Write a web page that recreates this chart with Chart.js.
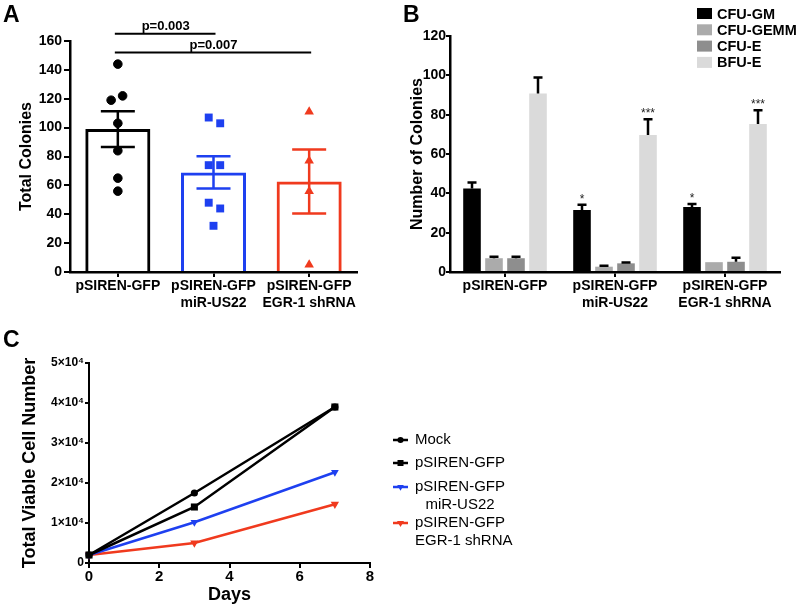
<!DOCTYPE html>
<html>
<head>
<meta charset="utf-8">
<script src="https://cdn.jsdelivr.net/npm/chart.js@4.4.1/dist/chart.umd.min.js"></script>
<style>
  body { margin: 0; background: #fff; width: 800px; height: 606px; position: relative; overflow: hidden;
         font-family: "Liberation Sans", Arial, Helvetica, sans-serif; }
  canvas { position: absolute; }
  #cA { left: 0; top: 0; }
  #cB { left: 400px; top: 0; }
  #cC { left: 0; top: 300px; }
  .panel { position: absolute; font-weight: bold; font-size: 23px; line-height: 23px; z-index: 2; }
</style>
</head>
<body>
<canvas id="cA" width="400" height="310"></canvas>
<canvas id="cB" width="400" height="310"></canvas>
<canvas id="cC" width="800" height="306"></canvas>
<div class="panel" style="left:3px; top:3px">A</div>
<div class="panel" style="left:403px; top:3px">B</div>
<div class="panel" style="left:3px; top:328px">C</div>
<script>
// shared category labels
const groupLabels = [['pSIREN-GFP'], ['pSIREN-GFP', 'miR-US22'], ['pSIREN-GFP', 'EGR-1 shRNA']];

// A: total colonies
const totalMean = [99, 69, 62.7];
const totalSem = [12.4, 11.2, 22.2];
const ctrlColonies = [144, 122, 119, 103, 84, 65, 56];
const mirColonies = [107, 103, 74, 74, 48, 44, 32];
const egrColonies = [111, 77, 56, 5];
const pLabels = ['p=0.003', 'p=0.007'];
const pPairs = [[0, 1], [0, 2]];
const pHeights = [165, 152];

// B: colony types
const colonyTypes = ['CFU-GM', 'CFU-GEMM', 'CFU-E', 'BFU-E'];
const cfuGM = [42.5, 31.5, 33];
const cfuGEMM = [7, 2.7, 5];
const cfuE = [7, 4.4, 5.2];
const bfuE = [90.7, 69.6, 75.2];
const cfuGMErr = [3, 2.7, 1.6];
const cfuGEMMErr = [0.8, 0.5, 0];
const cfuEErr = [0.8, 0.4, 2.1];
const bfuEErr = [8.2, 8.1, 7.1];
const cfuGMSig = ['', '*', '*'];
const bfuESig = ['', '***', '***'];

// C: growth curve
const days = [0, 3, 7];
const mockCells = [2000, 17500, 39000];
const gfpCells = [2000, 14000, 39000];
const mirCells = [2000, 10200, 22700];
const egrCells = [2000, 5000, 14700];
const seriesNames = [['Mock'], ['pSIREN-GFP'], ['pSIREN-GFP', 'miR-US22'], ['pSIREN-GFP', 'EGR-1 shRNA']];

const BLUE = '#1e40f0';
const RED = '#f03a1e';
const colorsA = ['#000', BLUE, RED];

// horizontal spread of the dots inside each bar (styling only)
const ctrlJitter = [0, 0.05, -0.07, 0, 0, 0, 0];
const mirJitter = [-0.05, 0.07, -0.05, 0.07, -0.05, 0.07, 0];
const egrJitter = [0, 0, 0, 0];

Chart.defaults.font.family = '"Liberation Sans", Arial, Helvetica, sans-serif';
Chart.defaults.color = '#000';

function toPoints(idx, vals, jit) {
  return vals.map((v, k) => ({ x: idx + jit[k], y: v }));
}

function axisStyle(extra) {
  return Object.assign({
    grid: { drawOnChartArea: false, color: '#000', lineWidth: 2, tickLength: 5 },
    border: { color: '#000', width: 2.5 },
  }, extra);
}

// ---------- A ----------
const plugA = {
  id: 'plugA',
  afterDraw(chart) {
    const ctx = chart.ctx, x = chart.scales.x, y = chart.scales.y;
    ctx.save();
    ctx.lineWidth = 2.5;
    totalMean.forEach((m, i) => {
      const px = x.getPixelForValue(i);
      const t = y.getPixelForValue(m + totalSem[i]);
      const b = y.getPixelForValue(m - totalSem[i]);
      ctx.strokeStyle = colorsA[i];
      ctx.beginPath();
      ctx.moveTo(px, t); ctx.lineTo(px, b);
      ctx.moveTo(px - 17, t); ctx.lineTo(px + 17, t);
      ctx.moveTo(px - 17, b); ctx.lineTo(px + 17, b);
      ctx.stroke();
    });
    ctx.strokeStyle = '#000';
    ctx.lineWidth = 2;
    ctx.fillStyle = '#000';
    ctx.font = 'bold 13px "Liberation Sans", Arial, sans-serif';
    ctx.textAlign = 'center';
    pLabels.forEach((txt, k) => {
      const x1 = x.getPixelForValue(pPairs[k][0]);
      const x2 = x.getPixelForValue(pPairs[k][1]);
      const py = y.getPixelForValue(pHeights[k]);
      ctx.beginPath();
      ctx.moveTo(x1 - 3, py); ctx.lineTo(x2 + 2, py);
      ctx.stroke();
      ctx.fillText(txt, (x1 + x2) / 2, py - 4);
    });
    ctx.restore();
  }
};

new Chart('cA', {
  type: 'bar',
  data: {
    datasets: [
      { type: 'bar', data: totalMean.map((m, i) => ({ x: i, y: m })), order: 1, grouped: false,
        backgroundColor: 'rgba(255,255,255,0)', borderColor: colorsA, borderWidth: 3,
        barPercentage: 0.68, categoryPercentage: 1 },
      { type: 'scatter', data: toPoints(0, ctrlColonies, ctrlJitter), order: 0,
        pointStyle: 'circle', pointRadius: 4.3, backgroundColor: '#000', borderColor: '#000', clip: false },
      { type: 'scatter', data: toPoints(1, mirColonies, mirJitter), order: 0,
        pointStyle: 'rect', pointRadius: 5.6, backgroundColor: BLUE, borderColor: BLUE, borderWidth: 0, clip: false },
      { type: 'scatter', data: toPoints(2, egrColonies, egrJitter), order: 0,
        pointStyle: 'triangle', pointRadius: 5.5, backgroundColor: RED, borderColor: RED, borderWidth: 0, clip: false }
    ]
  },
  options: {
    animation: false, responsive: false, events: [],
    layout: { padding: { top: 41, right: 43, left: 0, bottom: 0 } },
    plugins: { legend: { display: false }, tooltip: { enabled: false } },
    scales: {
      x: axisStyle({
        type: 'linear', min: -0.5, max: 2.5, offset: false,
        grid: { offset: false, drawOnChartArea: false, color: '#000', lineWidth: 2, tickLength: 5 },
        afterBuildTicks(s) { s.ticks = groupLabels.map((_, i) => ({ value: i })); },
        ticks: { font: { weight: 'bold', size: 14 }, color: '#000', padding: 1, maxRotation: 0, autoSkip: false,
                 callback: v => groupLabels[v] },
        afterFit(s) { s.height = 38; }
      }),
      y: axisStyle({
        min: 0, max: 160,
        grid: { drawOnChartArea: false, color: '#000', lineWidth: 2, tickLength: 6 },
        ticks: { stepSize: 20, font: { weight: 'bold', size: 14 }, color: '#000', padding: 2 },
        title: { display: true, text: 'Total Colonies', font: { weight: 'bold', size: 16 }, color: '#000', padding: { top: 17, bottom: 0 } },
        afterFit(s) { s.width = 70; }
      })
    }
  },
  plugins: [plugA]
});

// ---------- B ----------
const plugB = {
  id: 'plugB',
  afterDraw(chart) {
    const ctx = chart.ctx, y = chart.scales.y;
    const errs = [cfuGMErr, cfuGEMMErr, cfuEErr, bfuEErr];
    const sigs = [cfuGMSig, null, null, bfuESig];
    ctx.save();
    ctx.strokeStyle = '#000';
    ctx.lineWidth = 2.5;
    ctx.fillStyle = '#222';
    ctx.textAlign = 'center';
    ctx.font = '12px "Liberation Sans", Arial, sans-serif';
    chart.data.datasets.forEach((ds, d) => {
      chart.getDatasetMeta(d).data.forEach((bar, i) => {
        const e = errs[d][i];
        const top = y.getPixelForValue(ds.data[i] + e);
        if (e > 0) {
          ctx.beginPath();
          ctx.moveTo(bar.x, bar.y); ctx.lineTo(bar.x, top);
          ctx.moveTo(bar.x - 4.5, top); ctx.lineTo(bar.x + 4.5, top);
          ctx.stroke();
        }
        if (sigs[d] && sigs[d][i]) ctx.fillText(sigs[d][i], bar.x, top - 2);
      });
    });
    // legend
    ctx.font = 'bold 14.5px "Liberation Sans", Arial, sans-serif';
    ctx.textAlign = 'left';
    ctx.textBaseline = 'middle';
    chart.data.datasets.forEach((ds, d) => {
      const ry = 13.5 + d * 16.3;
      ctx.fillStyle = ds.backgroundColor;
      ctx.fillRect(297, ry - 5.5, 15, 11);
      ctx.fillStyle = '#000';
      ctx.fillText(ds.label, 317, ry + 1);
    });
    ctx.restore();
  }
};

const colorsB = ['#000000', '#ababab', '#8e8e8e', '#dadada'];
new Chart('cB', {
  type: 'bar',
  data: {
    labels: groupLabels,
    datasets: [cfuGM, cfuGEMM, cfuE, bfuE].map((vals, d) => ({
      label: colonyTypes[d], data: vals, backgroundColor: colorsB[d], borderWidth: 0,
      barPercentage: 0.8, categoryPercentage: 0.8
    }))
  },
  options: {
    animation: false, responsive: false, events: [],
    layout: { padding: { top: 36, right: 20, left: 0, bottom: 0 } },
    plugins: { legend: { display: false }, tooltip: { enabled: false } },
    scales: {
      x: axisStyle({
        grid: { offset: false, drawOnChartArea: false, color: '#000', lineWidth: 2, tickLength: 5 },
        ticks: { font: { weight: 'bold', size: 14 }, color: '#000', padding: 1, maxRotation: 0, autoSkip: false },
        afterFit(s) { s.height = 38; }
      }),
      y: axisStyle({
        min: 0, max: 120,
        grid: { drawOnChartArea: false, color: '#000', lineWidth: 2, tickLength: 4 },
        ticks: { stepSize: 20, font: { weight: 'bold', size: 14 }, color: '#000', padding: 0 },
        title: { display: true, text: 'Number of Colonies', font: { weight: 'bold', size: 16 }, color: '#000', padding: { top: 8, bottom: 0 } },
        afterFit(s) { s.width = 50; }
      })
    }
  },
  plugins: [plugB]
});

// ---------- C ----------
function marker(ctx, style, x, y, r, rot) {
  ctx.beginPath();
  if (style === 'rect') {
    const s = r * Math.SQRT1_2;
    ctx.rect(x - s, y - s, 2 * s, 2 * s);
  } else if (style === 'triangle') {
    const a = (rot || 0) * Math.PI / 180;
    for (let k = 0; k < 3; k++) {
      const t = a - Math.PI / 2 + k * 2 * Math.PI / 3;
      const px = x + r * Math.cos(t), py = y + r * Math.sin(t);
      k ? ctx.lineTo(px, py) : ctx.moveTo(px, py);
    }
    ctx.closePath();
  } else {
    ctx.arc(x, y, r, 0, Math.PI * 2);
  }
  ctx.fill();
}

const legendC = {
  id: 'legendC',
  afterDraw(chart) {
    const ctx = chart.ctx;
    const rows = [140, 163, 187, 223];
    const lx = chart.chartArea.right + 23;
    const tx = lx + 22;
    ctx.save();
    ctx.font = '15px "Liberation Sans", Arial, sans-serif';
    ctx.textBaseline = 'middle';
    chart.data.datasets.forEach((ds, d) => {
      const ry = rows[d];
      ctx.strokeStyle = ds.borderColor;
      ctx.fillStyle = ds.borderColor;
      ctx.lineWidth = 2.5;
      ctx.beginPath();
      ctx.moveTo(lx, ry); ctx.lineTo(lx + 15, ry);
      ctx.stroke();
      marker(ctx, ds.pointStyle, lx + 7.5, ry, ds.pointRadius * 0.85, ds.pointRotation);
      ctx.fillStyle = '#000';
      const lines = seriesNames[d];
      const w0 = ctx.measureText(lines[0]).width;
      ctx.textAlign = 'left';
      ctx.fillText(lines[0], tx, ry);
      if (lines[1]) {
        const w1 = ctx.measureText(lines[1]).width;
        ctx.fillText(lines[1], tx + Math.max(0, (w0 - w1) / 2), ry + 17.5);
      }
    });
    ctx.restore();
  }
};

const seriesC = [mockCells, gfpCells, mirCells, egrCells];
const colorsC = ['#000', '#000', BLUE, RED];
const stylesC = ['circle', 'rect', 'triangle', 'triangle'];
const radiiC = [3.6, 5, 4.5, 4.8];
new Chart('cC', {
  type: 'line',
  data: {
    datasets: seriesC.map((vals, d) => ({
      label: seriesNames[d].join(' '),
      data: vals.map((v, k) => ({ x: days[k], y: v })),
      borderColor: colorsC[d], backgroundColor: colorsC[d], borderWidth: 2.5,
      pointStyle: stylesC[d], pointRadius: radiiC[d], pointRotation: stylesC[d] === 'triangle' ? 180 : 0,
      pointBorderWidth: 0, tension: 0, clip: false
    }))
  },
  options: {
    animation: false, responsive: false, events: [],
    layout: { padding: { top: 63, right: 430, left: 0, bottom: 0 } },
    plugins: { legend: { display: false }, tooltip: { enabled: false } },
    scales: {
      x: axisStyle({
        type: 'linear', min: 0, max: 8,
        border: { color: '#000', width: 2 },
        ticks: { stepSize: 2, font: { weight: 'bold', size: 15 }, color: '#000', padding: 0 },
        title: { display: true, text: 'Days', font: { weight: 'bold', size: 18 }, color: '#000', padding: { top: 0, bottom: 0 } },
        afterFit(s) { s.height = 43; }
      }),
      y: axisStyle({
        min: 0, max: 50000,
        border: { color: '#000', width: 2 },
        grid: { drawOnChartArea: false, color: '#000', lineWidth: 2, tickLength: 4 },
        ticks: { stepSize: 10000, font: { weight: 'bold', size: 12 }, color: '#000', padding: 1,
                 callback: v => v === 0 ? '0' : (v / 10000) + '×10⁴' },
        title: { display: true, text: 'Total Viable Cell Number', font: { weight: 'bold', size: 18 }, color: '#000', padding: { top: 19, bottom: 0 } },
        afterFit(s) { s.width = 89; }
      })
    }
  },
  plugins: [legendC]
});
</script>
</body>
</html>
